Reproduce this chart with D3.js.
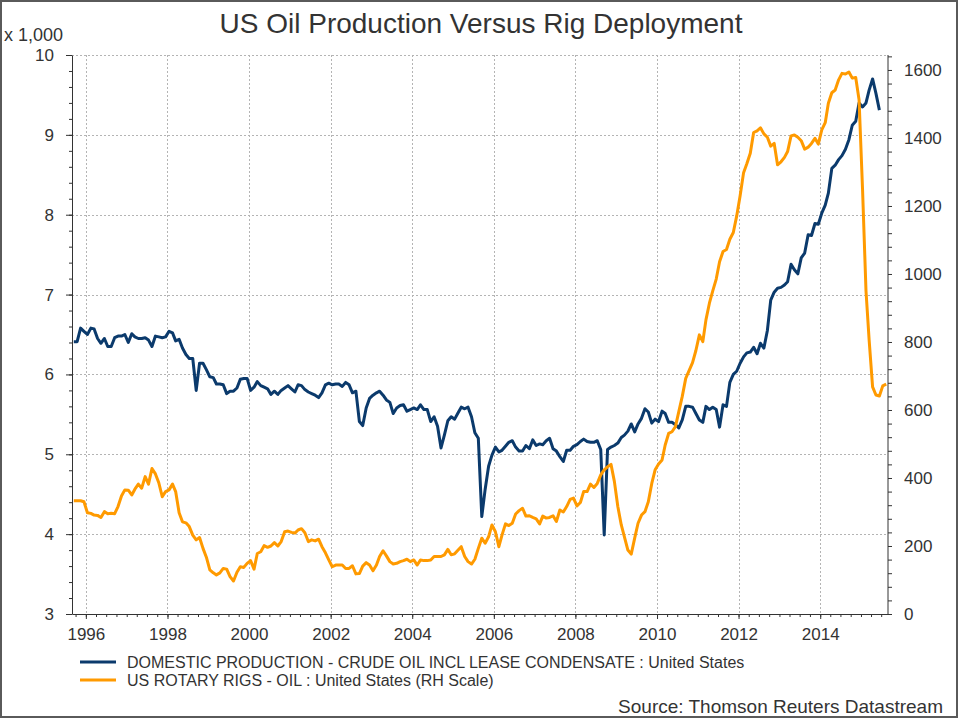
<!DOCTYPE html>
<html>
<head>
<meta charset="utf-8">
<script src="https://cdn.jsdelivr.net/npm/d3@7"></script>
<style>
  html, body { margin: 0; padding: 0; background: #fff; }
  svg text { font-family: "Liberation Sans", Arial, sans-serif; fill: #333; }
</style>
</head>
<body>
<div id="chart"></div>
<script>
// monthly series, first month Sep 1995
const START_MONTH = new Date(1995, 8, 15);

const production = [
  6.41, 6.41, 6.58, 6.54, 6.50, 6.58, 6.57, 6.45, 6.39, 6.45,
  6.35, 6.35, 6.46, 6.48, 6.48, 6.50, 6.40, 6.51, 6.47, 6.45,
  6.45, 6.46, 6.43, 6.35, 6.48, 6.47, 6.46, 6.47, 6.54, 6.52,
  6.42, 6.44, 6.33, 6.25, 6.20, 6.20, 5.80, 6.14, 6.14, 6.06,
  5.97, 5.96, 5.88, 5.88, 5.87, 5.76, 5.79, 5.79, 5.83, 5.94,
  5.95, 5.95, 5.80, 5.84, 5.91, 5.86, 5.84, 5.82, 5.75, 5.79,
  5.75, 5.80, 5.83, 5.86, 5.82, 5.78, 5.87, 5.86, 5.81, 5.78,
  5.76, 5.74, 5.71, 5.77, 5.87, 5.89, 5.87, 5.88, 5.88, 5.85,
  5.90, 5.87, 5.77, 5.79, 5.41, 5.36, 5.58, 5.70, 5.74, 5.77,
  5.79, 5.74, 5.68, 5.65, 5.51, 5.58, 5.61, 5.62, 5.54, 5.56,
  5.58, 5.56, 5.62, 5.56, 5.56, 5.41, 5.47, 5.35, 5.08, 5.24,
  5.42, 5.47, 5.44, 5.52, 5.59, 5.57, 5.59, 5.47, 5.27, 5.20,
  4.22, 4.56, 4.85, 4.99, 5.09, 5.03, 5.05, 5.10, 5.15, 5.17,
  5.09, 5.04, 5.04, 5.11, 5.07, 5.18, 5.11, 5.13, 5.12, 5.17,
  5.20, 5.07, 5.04, 4.97, 4.91, 5.05, 5.05, 5.10, 5.12, 5.16,
  5.19, 5.16, 5.15, 5.15, 5.17, 5.06, 3.99, 5.06, 5.09, 5.11,
  5.14, 5.21, 5.24, 5.29, 5.38, 5.28, 5.38, 5.45, 5.57, 5.53,
  5.39, 5.44, 5.41, 5.54, 5.51, 5.40, 5.40, 5.37, 5.33, 5.43,
  5.60, 5.60, 5.59, 5.51, 5.43, 5.40, 5.60, 5.56, 5.59, 5.56,
  5.34, 5.62, 5.60, 5.90, 6.00, 6.04, 6.14, 6.22, 6.27, 6.28,
  6.34, 6.26, 6.39, 6.33, 6.55, 6.93, 7.03, 7.08, 7.09, 7.12,
  7.16, 7.38, 7.31, 7.26, 7.46, 7.52, 7.75, 7.74, 7.89, 7.88,
  8.02, 8.12, 8.27, 8.58, 8.62, 8.69, 8.74, 8.82, 8.94, 9.12,
  9.17, 9.40, 9.35, 9.40, 9.56, 9.70, 9.52, 9.31
];

const rigs = [
  333, 333, 333, 330, 298, 296, 291, 290, 284, 301,
  295, 296, 295, 316, 347, 365, 364, 350, 367, 382,
  370, 404, 382, 428, 412, 386, 345, 360, 365, 382,
  360, 298, 271, 268, 257, 232, 218, 225, 193, 167,
  130, 121, 115, 121, 134, 132, 110, 97, 123, 139,
  137, 149, 157, 132, 178, 183, 201, 196, 200, 210,
  200, 213, 242, 244, 240, 238, 247, 251, 239, 213,
  218, 215, 220, 198, 180, 159, 139, 144, 144, 144,
  134, 134, 142, 118, 119, 141, 151, 144, 127, 144,
  169, 186, 171, 154, 147, 149, 154, 157, 161, 154,
  159, 144, 159, 157, 157, 159, 169, 169, 169, 174,
  190, 174, 177, 188, 198, 169, 154, 147, 161, 193,
  223, 208, 227, 262, 242, 198, 232, 265, 260, 267,
  294, 304, 311, 288, 289, 284, 280, 265, 288, 282,
  284, 289, 272, 306, 300, 316, 337, 341, 318, 328,
  360, 360, 382, 372, 384, 409, 424, 433, 440, 390,
  316, 262, 227, 188, 176, 223, 267, 291, 301, 330,
  384, 424, 441, 453, 497, 531, 536, 551, 595, 640,
  693, 716, 739, 775, 821, 801, 865, 914, 950, 985,
  1036, 1066, 1072, 1102, 1122, 1170, 1230, 1298, 1324, 1355,
  1416, 1421, 1430, 1412, 1402, 1376, 1384, 1321, 1330, 1343,
  1360, 1406, 1409, 1402, 1392, 1367, 1373, 1384, 1399, 1382,
  1424, 1445, 1502, 1533, 1541, 1571, 1590, 1588, 1594, 1576,
  1578, 1512, 1250, 950, 806, 668, 644, 641, 671, 676
];

const leftTicks = [3, 4, 5, 6, 7, 8, 9, 10];
const rightTicks = [0, 200, 400, 600, 800, 1000, 1200, 1400, 1600];
const yearTicks = [1996, 1998, 2000, 2002, 2004, 2006, 2008, 2010, 2012, 2014];

const seriesNames = [
  'DOMESTIC PRODUCTION - CRUDE OIL INCL LEASE CONDENSATE : United States',
  'US ROTARY RIGS - OIL : United States (RH Scale)'
];
const COLORS = ['#0b3a6c', '#ff9a00'];

const W = 960, H = 720;
const plot = { left: 72, right: 888, top: 55, bottom: 614 };

const svg = d3.select('#chart').append('svg')
  .attr('width', W).attr('height', H);

// frame
svg.append('rect').attr('x', 1).attr('y', 1).attr('width', W - 4).attr('height', H - 4)
  .attr('fill', '#fff').attr('stroke', '#5a5a5a').attr('stroke-width', 2);

const x = d3.scaleTime()
  .domain([new Date(1995, 7, 30), new Date(2015, 7, 31)])
  .range([plot.left, plot.right]);
const yL = d3.scaleLinear().domain([3, 10]).range([plot.bottom, plot.top]);
const yR = d3.scaleLinear().domain([0, 1644]).range([plot.bottom, plot.top]);

const dateAt = i => d3.timeMonth.offset(START_MONTH, i);

// grid
const grid = svg.append('g').attr('stroke', '#b4b4b4').attr('stroke-dasharray', '2,2')
  .attr('stroke-width', 1);
grid.selectAll('.gh').data(leftTicks.slice(1)).enter().append('line')
  .attr('x1', plot.left).attr('x2', plot.right)
  .attr('y1', d => Math.round(yL(d)) + 0.5).attr('y2', d => Math.round(yL(d)) + 0.5);
grid.selectAll('.gv').data(yearTicks).enter().append('line')
  .attr('x1', d => Math.round(x(new Date(d, 0, 1))) + 0.5)
  .attr('x2', d => Math.round(x(new Date(d, 0, 1))) + 0.5)
  .attr('y1', plot.top).attr('y2', plot.bottom);

// axes
const axisColor = '#333';
const styleAxis = g => {
  g.select('.domain').attr('stroke', axisColor);
  g.selectAll('.tick line').attr('stroke', axisColor);
  g.selectAll('.tick text').style('font-size', '17px').attr('fill', '#333');
};

svg.append('g').attr('transform', `translate(${plot.left},0)`)
  .call(d3.axisLeft(yL).tickValues(d3.range(3, 10.01, 0.2)).tickFormat('').tickSizeInner(3).tickSizeOuter(0))
  .call(styleAxis);
svg.append('g').attr('transform', `translate(${plot.left},0)`)
  .call(d3.axisLeft(yL).tickValues(leftTicks).tickSize(6).tickPadding(12).tickFormat(d3.format('d')))
  .call(g => g.select('.domain').remove())
  .call(styleAxis);

svg.append('g').attr('transform', `translate(${plot.right},0)`)
  .call(d3.axisRight(yR).tickValues(d3.range(0, 1644, 40)).tickFormat('').tickSizeInner(4).tickSizeOuter(0))
  .call(g => g.select('.domain').attr('d', `M0,${plot.bottom}V${plot.top}`))
  .call(styleAxis);
svg.append('g').attr('transform', `translate(${plot.right},0)`)
  .call(d3.axisRight(yR).tickValues(rightTicks).tickSize(0).tickPadding(16).tickFormat(d3.format('d')))
  .call(g => g.select('.domain').remove())
  .call(styleAxis);

svg.append('g').attr('transform', `translate(0,${plot.bottom})`)
  .call(d3.axisBottom(x).ticks(d3.timeMonth.every(3)).tickFormat('').tickSizeInner(3).tickSizeOuter(0))
  .call(styleAxis);
svg.append('g').attr('transform', `translate(0,${plot.bottom})`)
  .call(d3.axisBottom(x).tickValues(yearTicks.map(d => new Date(d, 0, 1)))
    .tickSize(5).tickPadding(9).tickFormat(d3.timeFormat('%Y')))
  .call(g => g.select('.domain').remove())
  .call(styleAxis);

// lines
const lineL = d3.line().x((d, i) => x(dateAt(i))).y(d => yL(d));
const lineR = d3.line().x((d, i) => x(dateAt(i))).y(d => yR(d));

svg.append('path').datum(production).attr('d', lineL)
  .attr('fill', 'none').attr('stroke', COLORS[0]).attr('stroke-width', 3)
  .attr('stroke-linejoin', 'round');
svg.append('path').datum(rigs).attr('d', lineR)
  .attr('fill', 'none').attr('stroke', COLORS[1]).attr('stroke-width', 3)
  .attr('stroke-linejoin', 'round');

// titles
svg.append('text').attr('x', 481).attr('y', 33).attr('text-anchor', 'middle')
  .style('font-size', '28px').text('US Oil Production Versus Rig Deployment');
svg.append('text').attr('x', 4).attr('y', 41).style('font-size', '18px').text('x 1,000');

// legend
const legend = svg.append('g');
seriesNames.forEach((name, i) => {
  const ly = 662 + i * 18;
  legend.append('line').attr('x1', 80).attr('x2', 116).attr('y1', ly).attr('y2', ly)
    .attr('stroke', COLORS[i]).attr('stroke-width', 3);
  legend.append('text').attr('x', 127).attr('y', ly + 6).style('font-size', '16px').text(name);
});

svg.append('text').attr('x', 943).attr('y', 713).attr('text-anchor', 'end')
  .style('font-size', '19px').text('Source: Thomson Reuters Datastream');
</script>
</body>
</html>
